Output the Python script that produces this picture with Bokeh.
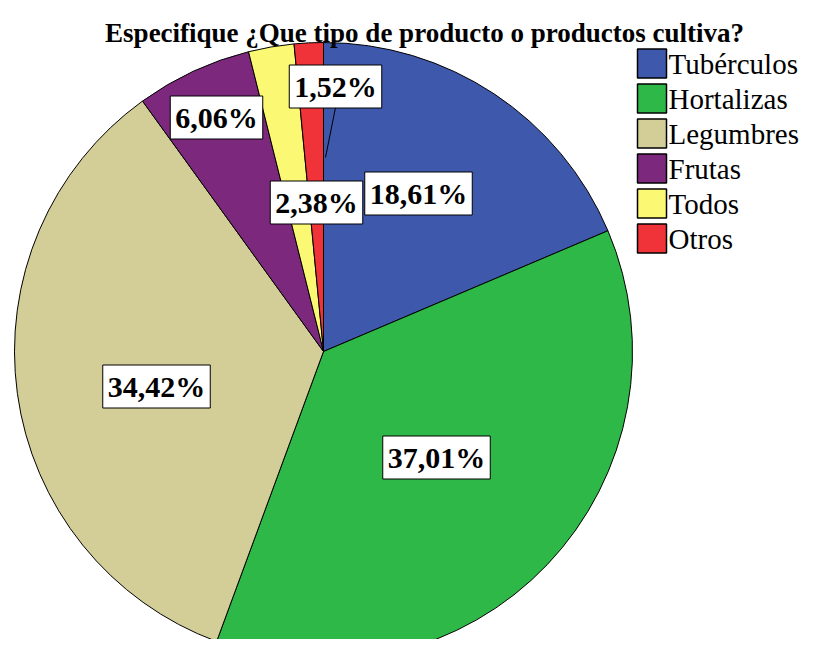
import math
from bokeh.plotting import figure
from bokeh.models import Range1d, ColumnDataSource
from bokeh.embed import file_html
from bokeh.resources import INLINE
from bokeh.core.properties import value

# ---- data ----
categories = ["Tubérculos", "Hortalizas", "Legumbres", "Frutas", "Todos", "Otros"]
percents = [18.61, 37.01, 34.42, 6.06, 2.38, 1.52]
colors = ["#3E58AC", "#2EB848", "#D3CE97", "#7C287D", "#FBF873", "#EF3338"]
title_text = "Especifique ¿Que tipo de producto o productos cultiva?"

# ---- layout (image-pixel coordinates, y down) ----
W, H = 799, 639
CX, CY, R = 323, 351, 309
label_pos = [(418, 193), (436, 457), (156, 386), (216, 117), (316, 202), (335, 86)]
FONT = value("Liberation Serif")

p = figure(width=W, height=H, x_range=Range1d(0, W), y_range=Range1d(-H, 0),
           output_backend="svg", toolbar_location=None, min_border=0,
           x_axis_type=None, y_axis_type=None)
p.grid.visible = False
p.outline_line_color = None
p.background_fill_color = "white"

# wedges, starting at 12 o'clock, clockwise
total = sum(percents)
starts, ends = [], []
cum = 0.0
for v in percents:
    a0 = math.pi / 2 - 2 * math.pi * (cum + v) / total
    a1 = math.pi / 2 - 2 * math.pi * cum / total
    starts.append(a0)
    ends.append(a1)
    cum += v

src = ColumnDataSource(dict(start=starts, end=ends, color=colors, cat=categories))
p.wedge(x=CX, y=-CY, radius=R, start_angle="start", end_angle="end", source=src,
        fill_color="color", line_color="black", line_width=1)

# leader line for the small slice label
p.line([335, 325], [-107, -157], line_color="black", line_width=1)

# percentage labels
labels = [("%.2f%%" % v).replace(".", ",") for v in percents]
order = [4, 5, 3, 2, 1, 0]
lsrc = ColumnDataSource(dict(
    x=[label_pos[i][0] for i in order],
    y=[-label_pos[i][1] for i in order],
    t=[labels[i] for i in order]))
p.text(x="x", y="y", text="t", source=lsrc, text_font=FONT, text_font_style="bold",
       text_font_size="30px", text_align="center", text_baseline="middle",
       text_color="black", background_fill_color="white", border_line_color="black",
       border_line_width=1, padding=5)

# title
p.text(x=[424], y=[-32], text=[title_text], text_font=FONT, text_font_style="bold",
       text_font_size="27px", text_align="center", text_baseline="alphabetic",
       text_color="black")

# legend
LX, LY0, LDY, LS = 651.5, 63, 35, 29
lg = ColumnDataSource(dict(
    x=[LX] * len(categories),
    y=[-(LY0 + LDY * i) for i in range(len(categories))],
    tx=[668] * len(categories),
    color=colors, cat=categories))
p.rect(x="x", y="y", width=LS, height=LS, source=lg, fill_color="color",
       line_color="black", line_width=1.5)
p.text(x="tx", y="y", text="cat", source=lg, text_font=FONT, text_font_size="29px",
       text_align="left", text_baseline="middle", text_color="black")

open("out.html", "w").write(file_html(p, INLINE))
